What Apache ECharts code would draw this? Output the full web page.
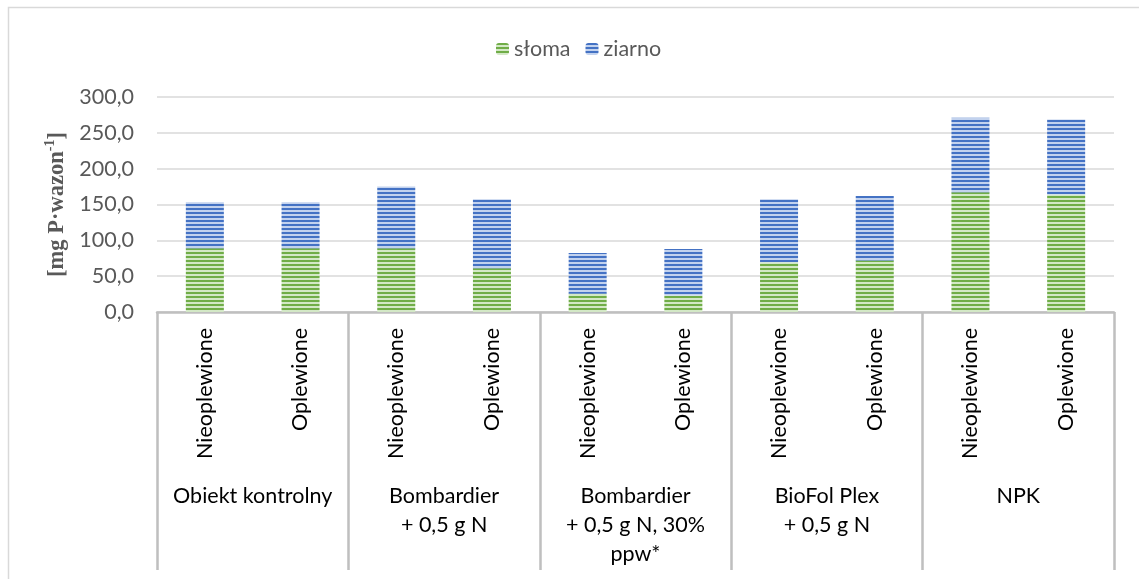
<!DOCTYPE html>
<html>
<head>
<meta charset="utf-8">
<script src="https://cdn.jsdelivr.net/npm/echarts@6/dist/echarts.min.js"></script>
<style>
  html, body { margin: 0; padding: 0; background: #fff; }
  #chart { width: 1139px; height: 579px; }
</style>
</head>
<body>
<div id="chart"></div>
<script>
// Treatment variants (inner axis) and fertiliser groups (outer axis)
const variants = ['Nieoplewione', 'Oplewione', 'Nieoplewione', 'Oplewione', 'Nieoplewione',
                  'Oplewione', 'Nieoplewione', 'Oplewione', 'Nieoplewione', 'Oplewione'];
const groups = ['Obiekt kontrolny', 'Bombardier\n+ 0,5 g N', 'Bombardier\n+ 0,5 g N, 30%\nppw*',
                'BioFol Plex\n+ 0,5 g N', 'NPK'];

// Phosphorus uptake [mg P per pot]
const sloma = [89, 89, 89, 61, 25.5, 23, 69.5, 72, 167, 164];
const ziarno = [64, 64, 86, 96.5, 57, 65, 88, 90, 104, 104.5];

const yTicks = { min: 0, max: 300, interval: 50 };

const FONT = 'Lato';
const FS = 21.5;

// Horizontal striped fill
function stripes(dark, light) {
  const c = document.createElement('canvas');
  c.width = 4; c.height = 4;
  const ctx = c.getContext('2d');
  ctx.fillStyle = light; ctx.fillRect(0, 0, 4, 4);
  ctx.fillStyle = dark; ctx.fillRect(0, 0, 4, 2);
  return { image: c, repeat: 'repeat' };
}

const chart = echarts.init(document.getElementById('chart'));
chart.setOption({
  animation: false,
  backgroundColor: '#fff',
  textStyle: { fontFamily: FONT },
  graphic: [{
    type: 'rect', shape: { x: 8.5, y: 7.5, width: 1140, height: 600 },
    style: { fill: 'none', stroke: '#D9D9D9', lineWidth: 1.5 }, silent: true
  }],
  legend: {
    left: 491, top: 33,
    itemWidth: 13, itemHeight: 12, itemGap: 15,
    textStyle: { fontSize: FS, color: '#595959', fontFamily: FONT },
    data: ['słoma', 'ziarno']
  },
  grid: { left: 157, right: 25, top: 97, bottom: 267 },
  xAxis: [{
    type: 'category', data: variants, position: 'bottom',
    axisLine: { lineStyle: { color: '#BFBFBF', width: 2.5 } },
    axisTick: { show: false },
    axisLabel: { rotate: 90, interval: 0, margin: 16, fontSize: FS, color: '#000', fontFamily: FONT }
  }, {
    type: 'category', data: groups, position: 'bottom',
    axisLine: { show: false },
    axisTick: { show: true, interval: 0, length: 258, lineStyle: { color: '#BFBFBF', width: 2.5 } },
    axisLabel: { interval: 0, margin: 170, fontSize: FS, lineHeight: 29, color: '#000',
                 fontFamily: FONT, align: 'center' }
  }],
  yAxis: {
    type: 'value', min: yTicks.min, max: yTicks.max, interval: yTicks.interval,
    axisLine: { show: false }, axisTick: { show: false },
    splitLine: { lineStyle: { color: '#D9D9D9', width: 1.5 } },
    axisLabel: { margin: 23, fontSize: FS, color: '#595959', fontFamily: FONT,
                 formatter: v => v.toFixed(1).replace('.', ',') },
    name: '{m|[mg P·wazon}{s|-1}{m|]}',
    nameLocation: 'middle', nameGap: 87, nameRotate: 90,
    nameTextStyle: {
      rich: {
        m: { fontFamily: 'Liberation Serif', fontWeight: 'bold', fontSize: 22.5, color: '#595959', lineHeight: 26 },
        s: { fontFamily: 'Liberation Serif', fontWeight: 'bold', fontSize: 14, color: '#595959', lineHeight: 14, verticalAlign: 'top' }
      }
    }
  },
  series: [{
    name: 'słoma', type: 'bar', stack: 'p', barWidth: 38, xAxisIndex: 0,
    itemStyle: { color: stripes('#70AD47', '#D3E8C6') },
    data: sloma
  }, {
    name: 'ziarno', type: 'bar', stack: 'p', barWidth: 38, xAxisIndex: 0,
    itemStyle: { color: stripes('#4472C4', '#C2D2EE') },
    data: ziarno
  }]
});
</script>
</body>
</html>
